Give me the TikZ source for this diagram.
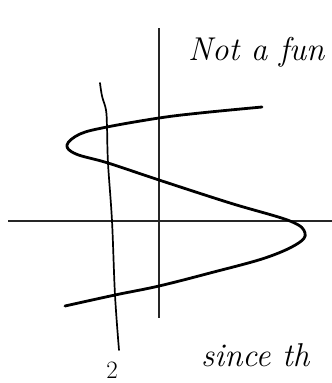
\documentclass[tikz,border=0pt]{standalone}
\usepackage{amsmath,amssymb}
\usepackage{fontspec}
\usepackage{xcolor}
\usepackage{tikz}

\begin{document}
\begin{tikzpicture}[
  x=1pt,y=-1pt,
  axis/.style={line width=1.2pt,black!85},
  curve/.style={line width=2.8pt,line cap=round,line join=round},
  vline/.style={line width=1.7pt,line cap=round},
  hand/.style={font=\itshape\fontsize{33}{36}\selectfont,inner sep=0pt,anchor=base west}
]
  \useasboundingbox (0,0) rectangle (332,383);
  \clip (0,0) rectangle (332,383);

  \coordinate (ytop) at (159,28);
  \coordinate (ybot) at (159,318);
  \coordinate (xl) at (8,221);
  \coordinate (xr) at (332,221);
  \draw[axis] (ytop) -- (ybot);
  \draw[axis] (xl) -- (xr);

  % the sideways S
  \draw[curve] plot[smooth,tension=0.6] coordinates {
    (262,107) (200,113) (159,118) (107,127) (80,134) (67,145) (76,154)
    (108,163) (159,180) (230,203) (290,221) (305,233) (297,244)
    (265,258) (210,273) (159,286) (115,295) (65,306)};

  % the line x = 2
  \draw[vline] plot[smooth,tension=0.6] coordinates {
    (100,83) (102,96) (106,110) (107,127) (108,163) (112,221) (115,295) (119,350)};

  \node[hand] (title) at (188,60) {Not a fun};
  \node[hand] (since) at (201,366) {since th};
  \node[font=\fontsize{25}{27}\selectfont,inner sep=0pt,anchor=base] (two) at (112,378) {2};
\end{tikzpicture}
\end{document}
